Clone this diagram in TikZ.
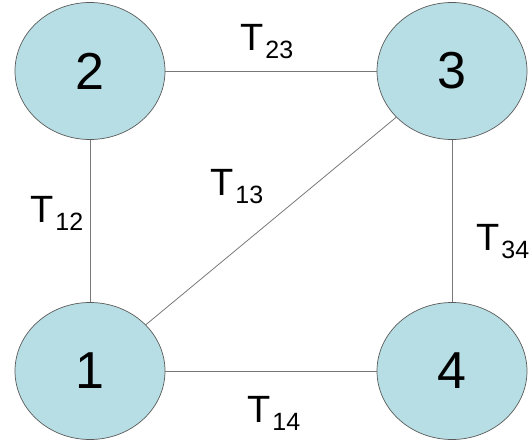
\documentclass[tikz,border=0pt]{standalone}
\usepackage{fontspec}
\setmainfont{Liberation Sans}
\usetikzlibrary{shapes.geometric}
\definecolor{cellfill}{RGB}{183, 222, 228}
\definecolor{rimgrey}{RGB}{90, 90, 90}
\definecolor{linkgrey}{RGB}{120, 120, 120}
\newcommand{\tlab}[1]{T\kern2pt\raisebox{-8pt}{\fontsize{25}{25}\selectfont #1}}

\begin{document}
\begin{tikzpicture}[x=1pt, y=-1pt,
  state/.style={ellipse, draw=rimgrey, fill=cellfill, line width=0.7pt,
    minimum width=150pt, minimum height=137pt, inner sep=0pt,
    font=\fontsize{52}{52}\selectfont},
  link/.style={draw=linkgrey, line width=0.8pt},
  tlabel/.style={anchor=base west, inner sep=0pt, font=\fontsize{38}{38}\selectfont}]

  \useasboundingbox (0, 0) rectangle (532, 442);

  % the four states
  \node[state] (n2) at (90, 71) {2};
  \node[state] (n3) at (452, 71) {3};
  \node[state] (n1) at (90, 371) {1};
  \node[state] (n4) at (452, 371) {4};

  % transitions
  \draw[link] (n2) -- (n3);
  \draw[link] (n2) -- (n1);
  \draw[link] (n3) -- (n4);
  \draw[link] (n1) -- (n4);
  \draw[link] (n1) -- (n3);

  \node[tlabel] (t23) at (240, 50) {\tlab{23}};
  \node[tlabel] (t13) at (210, 195) {\tlab{13}};
  \node[tlabel] (t12) at (30, 222) {\tlab{12}};
  \node[tlabel] (t34) at (476, 250) {\tlab{34}};
  \node[tlabel] (t14) at (247, 422) {\tlab{14}};

\end{tikzpicture}
\end{document}
